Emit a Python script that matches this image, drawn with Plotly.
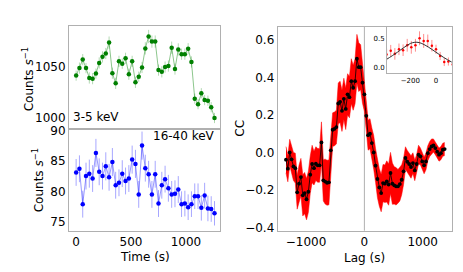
import plotly.graph_objects as go

# ---------------- data ----------------
time_s = [0, 30, 60, 90, 120, 150, 180, 210, 240, 270, 300, 330, 360, 390, 420,
          450, 480, 510, 540, 570, 600, 630, 660, 690, 720, 750, 780, 810, 840,
          870, 900, 930, 960, 990, 1020, 1050, 1080, 1110, 1140, 1170, 1200,
          1230, 1260]

soft_rate = [1041.3, 1048.7, 1057.0, 1048.7, 1039.0, 1038.3, 1043.3, 1053.7,
             1059.7, 1063.0, 1073.7, 1043.7, 1033.7, 1055.3, 1053.0, 1058.3,
             1042.7, 1055.3, 1034.7, 1040.3, 1049.3, 1068.0, 1079.7, 1074.7,
             1074.7, 1046.7, 1045.0, 1049.7, 1050.7, 1068.7, 1047.7, 1067.0,
             1062.3, 1062.3, 1067.7, 1054.7, 1018.7, 1013.3, 1024.0, 1017.3,
             1016.7, 1010.3, 999.7]
soft_err = [5.0, 5.5, 5.5, 5.0, 5.5, 5.5, 5.0, 5.5, 5.5, 5.5, 6.0, 5.5, 5.5,
            5.5, 5.0, 5.5, 5.5, 5.5, 5.5, 5.0, 5.5, 6.0, 6.5, 6.0, 6.0, 5.5,
            5.5, 5.5, 5.5, 6.0, 5.5, 6.0, 5.5, 5.5, 5.5, 5.5, 5.0, 5.0, 5.0,
            5.0, 5.0, 5.0, 5.0]

hard_rate = [83.1, 83.7, 77.9, 82.5, 82.9, 82.1, 86.3, 83.2, 82.5, 84.1, 82.3,
             84.8, 81.0, 81.4, 82.9, 81.7, 82.1, 85.2, 84.5, 79.5, 87.5, 83.8,
             82.8, 79.5, 82.8, 78.0, 81.0, 82.0, 80.5, 79.5, 79.6, 80.3, 77.9,
             78.0, 77.4, 77.9, 79.2, 79.2, 77.3, 79.3, 77.2, 77.1, 76.4]
hard_err = [2.2, 2.2, 2.2, 2.2, 2.3, 2.2, 2.3, 2.2, 2.2, 2.3, 2.2, 2.3, 2.2,
            2.2, 2.2, 2.2, 2.2, 2.3, 2.3, 2.2, 2.3, 2.2, 2.2, 2.2, 2.2, 2.2,
            2.2, 2.2, 2.2, 2.2, 2.2, 2.2, 2.1, 2.1, 2.1, 2.1, 2.1, 2.1, 2.1,
            2.1, 2.1, 2.1, 2.0]

lag_s = [-1344, -1312, -1280, -1248, -1216, -1184, -1152, -1120, -1088, -1056,
         -1024, -992, -960, -928, -896, -864, -832, -800, -768, -736, -704,
         -672, -640, -608, -576, -544, -512, -480, -448, -416, -384, -352,
         -320, -288, -256, -224, -192, -160, -128, -96, -64, -32, 0, 32, 64,
         96, 128, 160, 192, 224, 256, 288, 320, 352, 384, 416, 448, 480, 512,
         544, 576, 608, 640, 672, 704, 736, 768, 800, 832, 864, 896, 928, 960,
         992, 1024, 1056, 1088, 1120, 1152, 1184, 1216, 1248, 1280, 1312,
         1344, 1376]

cc = [-0.039, -0.087, 0.0, -0.037, -0.075, -0.084, -0.213, -0.167, -0.132,
      -0.229, -0.217, -0.25, -0.21, -0.119, -0.062, -0.084, -0.06, -0.069,
      -0.069, 0.053, -0.149, -0.156, -0.162, -0.16, 0.011, 0.121, 0.126,
      0.135, 0.261, 0.27, 0.222, 0.286, 0.232, 0.31, 0.295, 0.38, 0.345,
      0.38, 0.5, 0.455, 0.455, 0.372, 0.31, 0.195, 0.092, 0.1, 0.05, 0.0,
      -0.071, -0.142, -0.187, -0.217, -0.164, -0.167, -0.155, -0.172, -0.11,
      -0.167, -0.176, -0.181, -0.181, -0.169, -0.146, -0.101, -0.03, -0.05,
      -0.062, -0.078, -0.057, -0.096, -0.062, -0.012, -0.021, -0.048, -0.069,
      -0.048, -0.004, 0.018, 0.032, 0.037, 0.023, 0.004, -0.012, -0.004,
      0.014, 0.018]

cc_err = [0.07, 0.07, 0.07, 0.07, 0.075, 0.08, 0.09, 0.1, 0.1, 0.11, 0.11,
          0.11, 0.11, 0.1, 0.1, 0.09, 0.09, 0.09, 0.09, 0.11, 0.11, 0.12, 0.12,
          0.12, 0.1, 0.09, 0.09, 0.09, 0.11, 0.11, 0.11, 0.11, 0.11, 0.11, 0.11,
          0.12, 0.12, 0.12, 0.13, 0.13, 0.12, 0.11, 0.09, 0.08, 0.08, 0.08,
          0.08, 0.09, 0.09, 0.1, 0.1, 0.1, 0.1, 0.1, 0.11, 0.11, 0.11, 0.11,
          0.1, 0.1, 0.09, 0.09, 0.08, 0.07, 0.06, 0.06, 0.06, 0.06, 0.055,
          0.055, 0.05, 0.05, 0.045, 0.045, 0.045, 0.045, 0.04, 0.04, 0.04,
          0.035, 0.035, 0.035, 0.035, 0.035, 0.035, 0.035]

fit_lag = [-390, -340, -300, -250, -200, -170, -140, -110, -60, 0, 60, 130]
fit_cc = [0.13, 0.2, 0.26, 0.34, 0.41, 0.43, 0.43, 0.41, 0.35, 0.26, 0.17, 0.08]

inset_lo, inset_hi = -381, 122

# ---------------- figure ----------------
FONT = "DejaVu Sans"
FRAME = "#b0b0b0"
fig = go.Figure()

# top-left: soft band
fig.add_trace(go.Scatter(
    x=time_s, y=soft_rate, mode="lines+markers", xaxis="x", yaxis="y",
    line=dict(color="rgba(0,128,0,0.45)", width=1),
    marker=dict(color="#008000", size=4.5),
    error_y=dict(type="data", array=soft_err, color="rgba(0,128,0,0.3)",
                 thickness=1, width=0),
    showlegend=False))

# bottom-left: hard band
fig.add_trace(go.Scatter(
    x=time_s, y=hard_rate, mode="lines+markers", xaxis="x2", yaxis="y2",
    line=dict(color="rgba(0,0,255,0.4)", width=1),
    marker=dict(color="#0000ff", size=4.5),
    error_y=dict(type="data", array=hard_err, color="rgba(0,0,255,0.35)",
                 thickness=1, width=0),
    showlegend=False))

# right: cross-correlation band
upper = [c + e for c, e in zip(cc, cc_err)]
lower = [c - e for c, e in zip(cc, cc_err)]
fig.add_trace(go.Scatter(x=lag_s, y=upper, mode="lines", xaxis="x3", yaxis="y3",
                         line=dict(color="#ff0000", width=0.5), showlegend=False))
fig.add_trace(go.Scatter(x=lag_s, y=lower, mode="lines", xaxis="x3", yaxis="y3",
                         line=dict(color="#ff0000", width=0.5), fill="tonexty",
                         fillcolor="#ff0000", showlegend=False))
fig.add_trace(go.Scatter(x=lag_s, y=cc, mode="lines+markers", xaxis="x3", yaxis="y3",
                         line=dict(color="black", width=0.8),
                         marker=dict(color="black", size=3.8), showlegend=False))

# inset
sel = [i for i, l in enumerate(lag_s) if inset_lo - 20 <= l <= inset_hi + 20]
in_lag = [lag_s[i] for i in sel]
in_cc = [cc[i] for i in sel]
in_err = [cc_err[i] - 0.01 for i in sel]
fig.add_trace(go.Scatter(x=in_lag, y=in_cc, mode="markers", xaxis="x4", yaxis="y4",
                         marker=dict(color="#ff0000", size=2.5),
                         error_y=dict(type="data", array=in_err,
                                      color="rgba(255,0,0,0.45)", thickness=1, width=0),
                         showlegend=False))
fig.add_trace(go.Scatter(x=fit_lag, y=fit_cc, mode="lines", xaxis="x4", yaxis="y4",
                         line=dict(color="#333333", width=1, shape="spline"),
                         showlegend=False))

W, H = 463, 272


def px(v):
    return v / W


def py(v):
    return 1 - v / H


axis_common = dict(showline=True, mirror=True, linecolor=FRAME, linewidth=1,
                   showgrid=False, zeroline=False, ticks="", automargin=False,
                   tickfont=dict(family=FONT, size=12, color="black"))
small_axis = {**axis_common,
              "tickfont": dict(family=FONT, size=7, color="black")}

lx = [px(69), px(220)]
fig.update_layout(
    template="none",
    width=W, height=H, margin=dict(l=0, r=0, t=0, b=0, pad=0),
    paper_bgcolor="white", plot_bgcolor="white",
    xaxis=dict(domain=lx, anchor="y", range=[-65, 1310], showticklabels=False,
               **axis_common),
    yaxis=dict(domain=[py(128.5), py(26)], anchor="x", range=[989.4, 1090],
               tickvals=[1000, 1050], **axis_common),
    xaxis2=dict(domain=lx, anchor="y2", range=[-65, 1310], tickvals=[0, 500, 1000],
                **axis_common),
    yaxis2=dict(domain=[py(231), py(128.5)], anchor="x2", range=[73.5, 90.3],
                tickvals=[75, 80, 85, 90], **axis_common),
    xaxis3=dict(domain=[px(277.7), px(451.7)], anchor="y3", range=[-1486, 1497],
                tickvals=[-1000, 0, 1000], ticktext=["\u22121000", "0", "1000"],
                **axis_common),
    yaxis3=dict(domain=[py(230.7), py(26.7)], anchor="x3", range=[-0.418, 0.671],
                tickvals=[-0.4, -0.2, 0, 0.2, 0.4, 0.6],
                ticktext=["\u22120.4", "\u22120.2", "0.0", "0.2", "0.4", "0.6"],
                **axis_common),
    xaxis4=dict(domain=[px(387), px(451.7)], anchor="y4", range=[inset_lo, inset_hi],
                tickvals=[-200, 0], ticktext=["\u2212200", "0"], **small_axis),
    yaxis4=dict(domain=[py(73.3), py(26.7)], anchor="x4", range=[-0.103, 0.70],
                tickvals=[0, 0.5], ticktext=["0.0", "0.5"], **small_axis),
)

# zero-lag line
fig.add_shape(type="line", xref="x3", yref="y3 domain", x0=0, x1=0, y0=0, y1=1,
              line=dict(color=FRAME, width=1), layer="below")

ann = dict(xref="paper", yref="paper", showarrow=False,
           font=dict(family=FONT, size=12, color="black"))
fig.add_annotation(text="3-5 keV", x=px(70.5), y=py(117), xanchor="left",
                   yanchor="middle", **ann)
fig.add_annotation(text="16-40 keV", x=px(216.5), y=py(136), xanchor="right",
                   yanchor="middle", **ann)
fig.add_annotation(text="Counts <i>s</i><sup>\u22121</sup>", x=px(28.3), y=py(79),
                   textangle=-90, xanchor="center", yanchor="middle", **ann)
fig.add_annotation(text="Counts <i>s</i><sup>\u22121</sup>", x=px(38.3), y=py(180),
                   textangle=-90, xanchor="center", yanchor="middle", **ann)
fig.add_annotation(text="CC", x=px(240), y=py(128.7), textangle=-90,
                   xanchor="center", yanchor="middle", **ann)
fig.add_annotation(text="Time (s)", x=px(144.5), y=py(257), xanchor="center",
                   yanchor="middle", **ann)
fig.add_annotation(text="Lag (s)", x=px(364.7), y=py(257.5), xanchor="center",
                   yanchor="middle", **ann)

fig.write_html("out.html", config={"displayModeBar": False},
               post_script="document.body.style.margin='0';"
                           "document.body.style.overflow='hidden';")
